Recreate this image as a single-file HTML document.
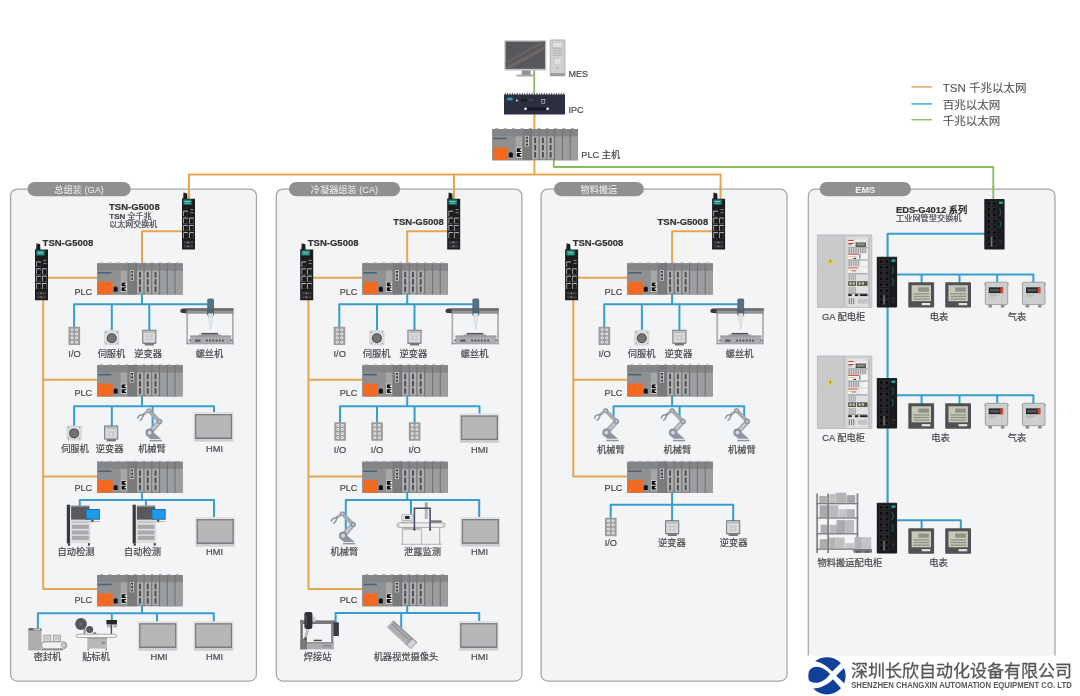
<!DOCTYPE html>
<html lang="zh-CN">
<head>
<meta charset="utf-8">
<title>TSN 网络拓扑</title>
<style>
html,body{margin:0;padding:0;background:#fff;}
body{width:1080px;height:696px;overflow:hidden;}
svg{display:block;filter:blur(0.45px);}
svg text{font-family:"Liberation Sans","Noto Sans CJK SC",sans-serif;}
</style>
</head>
<body>
<svg width="1080" height="696" viewBox="0 0 1080 696">
<rect width="1080" height="696" fill="#ffffff"/>
<defs>
<g id="plc">
<rect x="0" y="0" width="85.7" height="31.3" fill="#8b8c8e" />
<rect x="0" y="0" width="85.7" height="7.2" fill="#848587" />
<rect x="3.0" y="-0.9" width="3.2" height="1.0" fill="#a9aaac" />
<rect x="11.4" y="-0.9" width="3.2" height="1.0" fill="#a9aaac" />
<rect x="19.8" y="-0.9" width="3.2" height="1.0" fill="#a9aaac" />
<rect x="28.200000000000003" y="-0.9" width="3.2" height="1.0" fill="#a9aaac" />
<rect x="36.6" y="-0.9" width="3.2" height="1.0" fill="#a9aaac" />
<rect x="45.0" y="-0.9" width="3.2" height="1.0" fill="#a9aaac" />
<rect x="53.400000000000006" y="-0.9" width="3.2" height="1.0" fill="#a9aaac" />
<rect x="61.800000000000004" y="-0.9" width="3.2" height="1.0" fill="#a9aaac" />
<rect x="70.2" y="-0.9" width="3.2" height="1.0" fill="#a9aaac" />
<rect x="78.60000000000001" y="-0.9" width="3.2" height="1.0" fill="#a9aaac" />
<rect x="0" y="7.2" width="30.7" height="24.1" fill="#8f9092" />
<rect x="0.9" y="8.7" width="13.6" height="1.6" fill="#4a6578" />
<rect x="0.9" y="18.4" width="14.8" height="12.6" fill="#f26a21" />
<rect x="23.6" y="7.4" width="6.2" height="11.2" fill="#a6a7a9" />
<rect x="16.6" y="23.9" width="4.0" height="4.4" fill="#101012" />
<rect x="17.6" y="23.3" width="2.0" height="0.8" fill="#101012" />
<rect x="23.8" y="18.6" width="5.9" height="10.0" fill="#ececec" />
<rect x="24.5" y="19.2" width="4.6" height="3.9" fill="#101012" />
<rect x="24.5" y="24.0" width="4.6" height="3.9" fill="#101012" />
<rect x="27.6" y="20.2" width="2.1" height="1.6" fill="#ececec" />
<rect x="27.6" y="25.0" width="2.1" height="1.6" fill="#ececec" />
<rect x="30.7" y="0" width="8.3" height="31.3" fill="#7a7b7d" />
<rect x="32.7" y="6.9" width="3.9" height="10.4" fill="#d9d9da" />
<rect x="33.5" y="7.7" width="2.3" height="8.8" fill="#2e2f31" />
<rect x="33.9" y="9.2" width="1.5" height="2.2" fill="#bdbdbd" />
<rect x="33.9" y="12.8" width="1.5" height="2.2" fill="#bdbdbd" />
<rect x="38.9" y="0" width="0.8" height="31.3" fill="#6f7072" />
<rect x="39.9" y="7.4" width="6.2" height="22.4" fill="#aeafb1" />
<rect x="42.0" y="8.6" width="1.9" height="5.6" fill="#4b4c4e" />
<rect x="42.0" y="15.8" width="1.9" height="5.6" fill="#4b4c4e" />
<rect x="42.0" y="23.0" width="1.9" height="5.6" fill="#4b4c4e" />
<rect x="46.65" y="0" width="0.8" height="31.3" fill="#6f7072" />
<rect x="47.65" y="7.4" width="6.2" height="22.4" fill="#aeafb1" />
<rect x="49.75" y="8.6" width="1.9" height="5.6" fill="#4b4c4e" />
<rect x="49.75" y="15.8" width="1.9" height="5.6" fill="#4b4c4e" />
<rect x="49.75" y="23.0" width="1.9" height="5.6" fill="#4b4c4e" />
<rect x="54.4" y="0" width="0.8" height="31.3" fill="#6f7072" />
<rect x="55.4" y="7.4" width="6.2" height="22.4" fill="#aeafb1" />
<rect x="57.5" y="8.6" width="1.9" height="5.6" fill="#4b4c4e" />
<rect x="57.5" y="15.8" width="1.9" height="5.6" fill="#4b4c4e" />
<rect x="57.5" y="23.0" width="1.9" height="5.6" fill="#4b4c4e" />
<rect x="62.0" y="0" width="0.9" height="31.3" fill="#6f7072" />
<rect x="63.1" y="7.4" width="6.6" height="23.9" fill="#9c9d9f" />
<rect x="69.8" y="0" width="0.9" height="31.3" fill="#6f7072" />
<rect x="70.9" y="7.4" width="6.6" height="23.9" fill="#9c9d9f" />
<rect x="77.6" y="0" width="0.9" height="31.3" fill="#6f7072" />
<rect x="78.7" y="7.4" width="6.6" height="23.9" fill="#9c9d9f" />
</g>
<g id="tsn">
<path d="M0,6 L0,57 L13,57 L13,6.2 L5.4,6.2 L5.1,0.9 L1.5,0 L1.2,6 Z" fill="#1b1c1e"/>
<circle cx="2.2" cy="1.6" r="0.7" fill="#8e2f2a"/>
<rect x="1.3" y="7.0" width="8.4" height="5.2" fill="#1c857d" />
<rect x="2.6" y="8.6" width="5.5" height="0.9" fill="#7fd0c8" />
<rect x="2.6" y="10.2" width="5.5" height="0.9" fill="#58b7ae" />
<rect x="1.3" y="18.2" width="4.6" height="5.4" fill="#c9cacc" />
<rect x="2.0" y="19.1" width="3.9" height="4.5" fill="#1b1c1e" />
<rect x="8.3" y="16.5" width="3.2" height="1.2" fill="#77787a" />
<rect x="8.3" y="19.6" width="3.2" height="1.2" fill="#77787a" />
<rect x="1.3" y="25.1" width="4.6" height="5.9" fill="#c9cacc" />
<rect x="2.0" y="26.0" width="3.9" height="5.0" fill="#1b1c1e" />
<rect x="7.1" y="25.1" width="4.6" height="5.9" fill="#c9cacc" />
<rect x="7.8" y="26.0" width="3.9" height="5.0" fill="#1b1c1e" />
<rect x="1.3" y="32.4" width="4.6" height="5.9" fill="#c9cacc" />
<rect x="2.0" y="33.3" width="3.9" height="5.0" fill="#1b1c1e" />
<rect x="7.1" y="32.4" width="4.6" height="5.9" fill="#c9cacc" />
<rect x="7.8" y="33.3" width="3.9" height="5.0" fill="#1b1c1e" />
<rect x="1.3" y="39.7" width="4.6" height="5.9" fill="#c9cacc" />
<rect x="2.0" y="40.6" width="3.9" height="5.0" fill="#1b1c1e" />
<rect x="7.1" y="39.7" width="4.6" height="5.9" fill="#c9cacc" />
<rect x="7.8" y="40.6" width="3.9" height="5.0" fill="#1b1c1e" />
<rect x="1.6" y="48.4" width="9.8" height="3.0" fill="#3a3b3d" />
<rect x="1.6" y="52.3" width="9.8" height="3.0" fill="#3a3b3d" />
<rect x="5.6" y="49.4" width="1.0" height="1.0" fill="#d0d0d0" />
<rect x="5.6" y="53.3" width="1.0" height="1.0" fill="#d0d0d0" />
</g>
<g id="eds">
<rect x="0" y="0" width="20.3" height="50.6" fill="#1a1b1d" rx="0.8"/>
<rect x="0.6" y="0.6" width="19.1" height="0.6" fill="#2e2f32" />
<rect x="2.0" y="2.3" width="4.7" height="4.6" fill="#2d2e31" rx="0.6"/>
<circle cx="4.35" cy="4.60" r="1.5" fill="#0b0b0c"/>
<rect x="7.9" y="2.3" width="4.7" height="4.6" fill="#2d2e31" rx="0.6"/>
<circle cx="10.25" cy="4.60" r="1.5" fill="#0b0b0c"/>
<rect x="2.0" y="8.1" width="4.7" height="4.6" fill="#2d2e31" rx="0.6"/>
<circle cx="4.35" cy="10.40" r="1.5" fill="#0b0b0c"/>
<rect x="7.9" y="8.1" width="4.7" height="4.6" fill="#2d2e31" rx="0.6"/>
<circle cx="10.25" cy="10.40" r="1.5" fill="#0b0b0c"/>
<rect x="2.0" y="13.9" width="4.7" height="4.6" fill="#2d2e31" rx="0.6"/>
<circle cx="4.35" cy="16.20" r="1.5" fill="#0b0b0c"/>
<rect x="7.9" y="13.9" width="4.7" height="4.6" fill="#2d2e31" rx="0.6"/>
<circle cx="10.25" cy="16.20" r="1.5" fill="#0b0b0c"/>
<rect x="2.0" y="19.7" width="4.7" height="4.6" fill="#2d2e31" rx="0.6"/>
<circle cx="4.35" cy="22.00" r="1.5" fill="#0b0b0c"/>
<rect x="7.9" y="19.7" width="4.7" height="4.6" fill="#2d2e31" rx="0.6"/>
<circle cx="10.25" cy="22.00" r="1.5" fill="#0b0b0c"/>
<rect x="2.0" y="25.5" width="4.7" height="4.6" fill="#2d2e31" rx="0.6"/>
<circle cx="4.35" cy="27.80" r="1.5" fill="#0b0b0c"/>
<rect x="7.9" y="25.5" width="4.7" height="4.6" fill="#2d2e31" rx="0.6"/>
<circle cx="10.25" cy="27.80" r="1.5" fill="#0b0b0c"/>
<rect x="2.0" y="31.3" width="4.7" height="4.6" fill="#2d2e31" rx="0.6"/>
<circle cx="4.35" cy="33.60" r="1.5" fill="#0b0b0c"/>
<rect x="7.9" y="31.3" width="4.7" height="4.6" fill="#2d2e31" rx="0.6"/>
<circle cx="10.25" cy="33.60" r="1.5" fill="#0b0b0c"/>
<rect x="2.0" y="37.1" width="4.7" height="4.6" fill="#2d2e31" rx="0.6"/>
<circle cx="4.35" cy="39.40" r="1.5" fill="#0b0b0c"/>
<rect x="7.9" y="37.1" width="4.7" height="4.6" fill="#2d2e31" rx="0.6"/>
<circle cx="10.25" cy="39.40" r="1.5" fill="#0b0b0c"/>
<rect x="2.0" y="42.9" width="4.7" height="4.6" fill="#2d2e31" rx="0.6"/>
<circle cx="4.35" cy="45.20" r="1.5" fill="#0b0b0c"/>
<rect x="7.9" y="42.9" width="4.7" height="4.6" fill="#2d2e31" rx="0.6"/>
<circle cx="10.25" cy="45.20" r="1.5" fill="#0b0b0c"/>
<rect x="6.9" y="1.6" width="0.6" height="36" fill="#3a3b3e" />
<rect x="6.6" y="38.2" width="1.4" height="9.6" fill="#77787a" />
<rect x="14.6" y="2.6" width="4.0" height="2.4" fill="#23a79b" />
<path d="M15.4,9.6 Q17.8,13.4 15.4,17.2 M15.4,21.4 Q17.8,25.2 15.4,29" stroke="#2a7f86" stroke-width="0.7" fill="none"/>
<rect x="15.0" y="40.6" width="2.8" height="2.8" fill="#2d2e31" />
<rect x="15.0" y="45.0" width="2.8" height="1.2" fill="#2d2e31" />
</g>
<g id="io">
<rect x="0" y="0" width="11.6" height="18.4" fill="#9b9c9e" rx="0.6"/>
<rect x="2.0" y="1.7" width="3.0" height="2.7" fill="#e6e6e7" rx="1.0"/>
<circle cx="3.50" cy="3.05" r="0.7" fill="#b5b6b8"/>
<rect x="6.6" y="1.7" width="3.0" height="2.7" fill="#e6e6e7" rx="1.0"/>
<circle cx="8.10" cy="3.05" r="0.7" fill="#b5b6b8"/>
<rect x="2.0" y="5.8" width="3.0" height="2.7" fill="#e6e6e7" rx="1.0"/>
<circle cx="3.50" cy="7.15" r="0.7" fill="#b5b6b8"/>
<rect x="6.6" y="5.8" width="3.0" height="2.7" fill="#e6e6e7" rx="1.0"/>
<circle cx="8.10" cy="7.15" r="0.7" fill="#b5b6b8"/>
<rect x="2.0" y="9.9" width="3.0" height="2.7" fill="#e6e6e7" rx="1.0"/>
<circle cx="3.50" cy="11.25" r="0.7" fill="#b5b6b8"/>
<rect x="6.6" y="9.9" width="3.0" height="2.7" fill="#e6e6e7" rx="1.0"/>
<circle cx="8.10" cy="11.25" r="0.7" fill="#b5b6b8"/>
<rect x="2.0" y="14.0" width="3.0" height="2.7" fill="#e6e6e7" rx="1.0"/>
<circle cx="3.50" cy="15.35" r="0.7" fill="#b5b6b8"/>
<rect x="6.6" y="14.0" width="3.0" height="2.7" fill="#e6e6e7" rx="1.0"/>
<circle cx="8.10" cy="15.35" r="0.7" fill="#b5b6b8"/>
</g>
<g id="servo">
<rect x="0.5" y="0.6" width="14.6" height="14.4" fill="#dcdddf" rx="1.2" stroke="#c9cacc" stroke-width="0.5"/>
<circle cx="7.8" cy="8.2" r="5.0" fill="#4f5052"/>
<circle cx="7.8" cy="8.2" r="3.9" fill="#737476"/>
<circle cx="2.3" cy="2.4" r="0.8" fill="#a4a5a7"/>
<circle cx="13.3" cy="2.4" r="0.8" fill="#a4a5a7"/>
<circle cx="2.3" cy="13.2" r="0.8" fill="#a4a5a7"/>
<circle cx="13.3" cy="13.2" r="0.8" fill="#a4a5a7"/>
</g>
<g id="inv">
<rect x="2.4" y="13.6" width="9.2" height="2.2" fill="#77787a" />
<rect x="0" y="0" width="14" height="14.0" fill="#66676a" rx="0.5"/>
<rect x="0.9" y="1.0" width="12.2" height="12.0" fill="#d9dadc" />
<rect x="0.9" y="1.0" width="12.2" height="2.2" fill="#b9babc" />
<path d="M0.9,6.2 H13.1 M0.9,9.8 H13.1 M4.6,3.2 V13 M9.4,3.2 V13" stroke="#c4c5c7" stroke-width="0.5" fill="none"/>
<circle cx="7" cy="8.1" r="2.4" fill="#c3c4c6"/>
<circle cx="7" cy="8.1" r="1.0" fill="#f2f2f3"/>
</g>
<g id="hmi">
<rect x="-1.0" y="-0.2" width="40.3" height="29.7" fill="#e0e1e3" rx="0.8"/>
<rect x="0.6" y="1.8" width="37.2" height="24.9" fill="#7a7b7d" />
<rect x="1.9" y="3.1" width="34.6" height="22.0" fill="#b5b6b8" />
<rect x="0.2" y="26.7" width="38.0" height="2.4" fill="#cdced0" />
</g>
<g id="robot">
<path d="M12.6,31.6 L24.8,31.6 L24.8,33.1 L12.6,33.1 Z" fill="#8f959f"/>
<path d="M8.8,26.6 L12.6,20.6 L24.2,30.6 L13.6,30.6 Z" fill="#8f959f"/>
<path d="M12.6,24.4 L22.6,13.2" stroke="#a5aab3" stroke-width="5.2" stroke-linecap="round"/>
<path d="M13.6,23.2 L21.8,14.0" stroke="#d6dadf" stroke-width="1.3" stroke-linecap="round"/>
<path d="M22.6,13.2 L11.8,2.2" stroke="#a5aab3" stroke-width="4.0" stroke-linecap="round"/>
<path d="M11.8,2.2 L6.6,6.2" stroke="#a5aab3" stroke-width="2.8" stroke-linecap="round"/>
<path d="M6.8,6.0 L2.0,7.4 M6.8,6.0 L5.0,10.4 M2.0,7.4 L0.8,9.8 M5.0,10.4 L3.2,12.0" stroke="#8f959f" stroke-width="1.5" stroke-linecap="round" fill="none"/>
<circle cx="12.6" cy="24.4" r="4.1" fill="#8f959f"/>
<circle cx="12.6" cy="24.4" r="1.9" fill="#d6dadf"/>
<circle cx="22.6" cy="13.2" r="2.6" fill="#8f959f"/>
<circle cx="22.6" cy="13.2" r="1.1" fill="#d6dadf"/>
<ellipse cx="11.8" cy="2.2" rx="2.6" ry="2.1" fill="#8f959f"/>
<ellipse cx="11.8" cy="2.4" rx="1.2" ry="0.9" fill="#d6dadf"/>
</g>
<g id="screw">
<rect x="6.3" y="15" width="1.7" height="31.3" fill="#acadaf" />
<rect x="52.0" y="15" width="1.7" height="31.3" fill="#acadaf" />
<rect x="6.3" y="44.4" width="47.4" height="1.9" fill="#a2a3a5" />
<rect x="6.3" y="10.1" width="47.4" height="3.0" fill="#6f7072" />
<rect x="6.3" y="13.1" width="47.4" height="2.6" fill="#909193" />
<path d="M0.3,12.9 Q0.3,10.9 3.2,10.6 L6.6,10.4 L6.6,15.2 L3.2,15.1 Q0.3,14.9 0.3,12.9 Z" fill="#3a3b3d"/>
<rect x="27.2" y="0.4" width="6.8" height="17.8" fill="#587080" rx="1.6"/>
<rect x="27.2" y="10.1" width="6.8" height="5.6" fill="#4f6676" />
<rect x="28.2" y="15.4" width="4.8" height="2.6" fill="#dfe3e6" />
<path d="M28.4,18.2 L32.8,18.2 L32.2,24 L31.6,24 L31.2,31 L30.0,31 L29.6,24 L29.0,24 Z" fill="#e6e8ea" stroke="#c2c7cb" stroke-width="0.4"/>
<rect x="21.4" y="34.9" width="16.6" height="1.8" fill="#55565a" />
<rect x="18.4" y="36.6" width="22.6" height="1.4" fill="#8e8f91" />
<rect x="10.2" y="37.6" width="41.0" height="7.6" fill="#abacae" />
<rect x="10.2" y="37.6" width="41.0" height="1.2" fill="#97989a" />
<rect x="15.0" y="41.4" width="5.4" height="2.4" fill="#5f6062" />
<rect x="8.6" y="41.6" width="2.6" height="1.6" fill="#77787a" />
<rect x="50.2" y="41.6" width="2.6" height="1.6" fill="#77787a" />
<rect x="26.0" y="41.6" width="1.9" height="1.9" fill="#55565a" />
<rect x="29.2" y="41.6" width="1.9" height="1.9" fill="#55565a" />
<rect x="32.4" y="41.6" width="1.9" height="1.9" fill="#55565a" />
<rect x="35.6" y="41.6" width="1.9" height="1.9" fill="#55565a" />
<rect x="38.8" y="41.6" width="1.9" height="1.9" fill="#55565a" />
<rect x="42.0" y="41.6" width="1.9" height="1.9" fill="#55565a" />
</g>
<g id="tester">
<rect x="0.1" y="0.7" width="3.3" height="38.8" fill="#38393b" />
<rect x="3.4" y="1.4" width="1.0" height="37.8" fill="#e4e4e6" />
<rect x="4.4" y="1.4" width="18.4" height="1.6" fill="#98999b" />
<rect x="4.4" y="2.8" width="18.4" height="13.0" fill="#58595c" />
<rect x="4.1" y="15.8" width="19.7" height="23.4" fill="#dcdddf" />
<rect x="5.3" y="17.2" width="16.7" height="1.8" fill="#c2c3c5" />
<rect x="5.3" y="20.8" width="16.7" height="4.0" fill="#a8a9ab" />
<rect x="5.3" y="26.5" width="16.7" height="4.0" fill="#a8a9ab" />
<rect x="5.3" y="31.9" width="16.7" height="4.0" fill="#a8a9ab" />
<rect x="18.8" y="5.0" width="14.4" height="10.8" fill="#1a70b0" rx="0.5"/>
<rect x="19.9" y="6.0" width="12.2" height="8.6" fill="#1e9ce9" />
<rect x="24.6" y="15.8" width="2.2" height="2.4" fill="#3f4042" />
<rect x="22.8" y="17.0" width="10.2" height="0.7" fill="#98999b" />
<rect x="1.2" y="39.5" width="2.2" height="2.1" fill="#38393b" />
<rect x="21.2" y="39.2" width="2.0" height="2.4" fill="#38393b" />
</g>
<g id="sealer">
<rect x="0.2" y="1.6" width="13.4" height="21.0" fill="#acadaf" />
<rect x="0.2" y="0.3" width="13.4" height="2.6" fill="#8c8d8f" />
<rect x="1.4" y="0.5" width="3.6" height="1.5" fill="#55565a" />
<rect x="6.2" y="0.9" width="2.4" height="1.2" fill="#d8d9da" />
<rect x="9.6" y="0.9" width="2.4" height="1.2" fill="#d8d9da" />
<rect x="15.9" y="7.3" width="7.0" height="6.6" fill="#dcdcde" stroke="#8c8d8f" stroke-width="0.7"/>
<rect x="25.6" y="7.3" width="7.0" height="6.6" fill="#dcdcde" stroke="#8c8d8f" stroke-width="0.7"/>
<rect x="17.2" y="8.6" width="4.4" height="3.6" fill="#c9c4c8" />
<rect x="26.9" y="8.6" width="4.4" height="3.6" fill="#c9c4c8" />
<rect x="13.4" y="14.0" width="25.4" height="7.0" fill="#f2f2f3" rx="3.5" stroke="#8e8f91" stroke-width="0.9"/>
<circle cx="35.6" cy="17.5" r="2.3" fill="#d3d4d6" stroke="#8e8f91" stroke-width="0.8"/>
<rect x="13.6" y="21.0" width="21" height="1.6" fill="#8c8d8f" />
</g>
<g id="labeler">
<rect x="8.3" y="10.6" width="1.9" height="5.8" fill="#8c8d8f" />
<circle cx="5.6" cy="6.0" r="5.9" fill="#55565a"/>
<circle cx="5.6" cy="6.0" r="1.4" fill="#6e6f73"/>
<circle cx="14.3" cy="11.6" r="3.5" fill="#55565a"/>
<circle cx="14.3" cy="11.6" r="0.9" fill="#6e6f73"/>
<rect x="17.6" y="14.4" width="3.2" height="1.6" fill="#77787a" />
<rect x="31.0" y="1.9" width="10.6" height="4.6" fill="#242527" rx="0.5"/>
<rect x="31.8" y="6.5" width="1.2" height="3.0" fill="#8c8d8f" />
<rect x="34.0" y="6.5" width="1.2" height="3.0" fill="#8c8d8f" />
<rect x="38.0" y="6.5" width="1.2" height="3.0" fill="#8c8d8f" />
<rect x="40.0" y="6.5" width="1.2" height="3.0" fill="#8c8d8f" />
<rect x="35.3" y="6.5" width="1.4" height="9.6" fill="#4b4c4f" />
<rect x="0.9" y="16.2" width="40.3" height="3.3" fill="#f4f4f5" rx="1.6" stroke="#97989a" stroke-width="0.8"/>
<rect x="12.0" y="19.9" width="19.5" height="10.7" fill="#b7b8ba" />
<rect x="12.0" y="19.9" width="19.5" height="1.1" fill="#9c9d9f" />
<rect x="26.4" y="23.6" width="3.0" height="2.4" fill="#8c8d8f" />
<rect x="12.0" y="30.6" width="1.5" height="1.9" fill="#8c8d8f" />
<rect x="30.0" y="30.6" width="1.5" height="1.9" fill="#8c8d8f" />
</g>
<g id="leak">
<rect x="28.3" y="0" width="2.9" height="16.4" fill="#a3a4a6" />
<rect x="29.0" y="0.8" width="1.5" height="4.0" fill="#8fae86" />
<rect x="29.2" y="5.6" width="1.1" height="10" fill="#c9cacc" />
<rect x="5.4" y="25.0" width="1.4" height="17.0" fill="#b7b8ba" />
<rect x="24.4" y="25.0" width="1.2" height="17.0" fill="#b7b8ba" />
<rect x="42.4" y="25.0" width="1.4" height="17.0" fill="#b7b8ba" />
<rect x="4.4" y="41.2" width="40.6" height="1.1" fill="#a9aaac" />
<rect x="6.8" y="27.4" width="17.6" height="13.8" fill="#f0f0f1" />
<rect x="25.6" y="27.4" width="16.8" height="13.8" fill="#f0f0f1" />
<rect x="6.8" y="24.6" width="17.2" height="2.8" fill="#b5b6b8" />
<rect x="5.4" y="11.8" width="11.1" height="8.6" fill="#dedfe1" stroke="#a9aaac" stroke-width="0.6"/>
<rect x="8.6" y="13.6" width="4.4" height="2.9" fill="#1f2022" />
<rect x="6.4" y="17.6" width="8.6" height="1.0" fill="#b5b6b8" />
<rect x="34.5" y="17.9" width="10.7" height="2.6" fill="#77787a" />
<rect x="0.4" y="20.5" width="48.3" height="4.5" fill="#f0f0f1" rx="2.2" stroke="#9a9b9d" stroke-width="0.8"/>
<circle cx="2.6" cy="22.8" r="0.7" fill="#9a9b9d"/>
<circle cx="46.4" cy="22.8" r="0.7" fill="#9a9b9d"/>
<path d="M17.9,27.2 L17.9,5.8 L33.6,5.8 L33.6,27.2" fill="none" stroke="#4f4d68" stroke-width="1.6"/>
<circle cx="17.9" cy="27.4" r="1.0" fill="#2c2d30"/>
<circle cx="33.6" cy="27.4" r="1.0" fill="#2c2d30"/>
</g>
<g id="weld">
<rect x="0" y="8.1" width="2.4" height="29.5" fill="#6b6c6e" />
<rect x="30.6" y="12.3" width="2.5" height="25.3" fill="#8c8d8f" />
<rect x="0" y="8.7" width="34.9" height="3.6" fill="#77787a" />
<rect x="12" y="5.0" width="3.0" height="5.2" fill="#c9cacc" />
<rect x="4.0" y="0.3" width="8.0" height="16.9" fill="#2f3033" rx="2.2"/>
<rect x="5.4" y="4" width="1.2" height="9" fill="#55565a" />
<path d="M8.4,17.2 L5.2,27.6 M6.6,17.2 L4.2,27.6" stroke="#77787a" stroke-width="0.7"/>
<rect x="32.9" y="10.5" width="5.6" height="13.9" fill="#3b3c3f" rx="0.8"/>
<rect x="2.4" y="30.4" width="30.7" height="7.2" fill="#acadaf" />
<rect x="2.4" y="30.4" width="30.7" height="1.4" fill="#8c8d8f" />
<rect x="0" y="26.8" width="6.6" height="10.8" fill="#77787a" />
<rect x="4.2" y="25.6" width="1.8" height="2.6" fill="#4b4c4f" />
<rect x="13.2" y="28.0" width="8.4" height="1.5" fill="#4b4c4f" />
<rect x="22.3" y="33.4" width="8.4" height="0.8" fill="#77787a" />
<rect x="22.3" y="34.9" width="8.4" height="0.8" fill="#8c8d8f" />
</g>
<g id="camera">
<g transform="translate(15.2,10.4) rotate(42.6)">
<rect x="-16.4" y="-4.8" width="32.8" height="9.6" fill="#b4b5b7" rx="1.4"/>
<rect x="-16.4" y="-4.8" width="32.8" height="2.0" fill="#9a9b9d" rx="1.0"/>
<rect x="-15" y="-1.6" width="24" height="1.3" fill="#8c8d8f" />
<rect x="-15" y="1.2" width="24" height="1.0" fill="#9fa0a2" />
<rect x="10.4" y="-3.8" width="4.8" height="7.6" fill="#d3d4d6" rx="0.8"/>
<rect x="9.2" y="-4.8" width="1.0" height="9.6" fill="#8c8d8f" />
</g>
</g>
<g id="cabinet">
<rect x="0" y="0" width="26.8" height="72.4" fill="#c6c7c9" stroke="#b3b4b6" stroke-width="0.7"/>
<rect x="1.2" y="1.2" width="24.4" height="70" fill="#c9cacc" />
<path d="M13,23 L9.8,28.6 L16.2,28.6 Z" fill="#efc21c"/>
<rect x="12.6" y="25" width="0.8" height="2" fill="#7a6a1a" />
<rect x="4.2" y="31.6" width="1.0" height="2.4" fill="#e0c04a" />
<rect x="27.4" y="0" width="27.2" height="72.4" fill="#d0d1d3" stroke="#b3b4b6" stroke-width="0.7"/>
<rect x="30.2" y="2.6" width="20.8" height="69" fill="#dfe0e1" />
<rect x="51.0" y="2.6" width="1.4" height="69" fill="#b9babc" />
<rect x="30.9" y="5.0" width="5.4" height="1.2" fill="#c8402f" />
<rect x="30.9" y="6.2" width="5.4" height="1.4" fill="#fafafa" />
<rect x="30.9" y="8.0" width="5.4" height="1.1" fill="#c8402f" />
<rect x="30.9" y="9.1" width="5.4" height="1.6" fill="#fafafa" />
<rect x="30.9" y="9.7" width="4.0" height="0.6" fill="#3b3c3e" />
<rect x="38.4" y="7.6" width="10.2" height="4.4" fill="#4a4b40" />
<rect x="39.4" y="8.4" width="8.2" height="2.4" fill="#8c8e7c" />
<rect x="38.4" y="5.4" width="10.2" height="1.4" fill="#f2f2f2" />
<rect x="30.9" y="12.6" width="19.4" height="0.7" fill="#77787a" />
<rect x="31.2" y="13.6" width="1.2" height="4.8" fill="#8f9092" />
<rect x="33.5" y="13.6" width="1.2" height="4.8" fill="#8f9092" />
<rect x="35.8" y="13.6" width="1.2" height="4.8" fill="#8f9092" />
<rect x="38.1" y="13.6" width="1.2" height="4.8" fill="#8f9092" />
<rect x="40.4" y="13.6" width="1.2" height="4.8" fill="#8f9092" />
<rect x="42.7" y="13.6" width="1.2" height="4.8" fill="#8f9092" />
<rect x="45.0" y="13.6" width="1.2" height="4.8" fill="#8f9092" />
<rect x="47.3" y="13.6" width="1.2" height="4.8" fill="#8f9092" />
<rect x="30.9" y="18.8" width="10.6" height="1.1" fill="#c8402f" />
<rect x="30.9" y="19.9" width="10.6" height="3.6" fill="#fafafa" />
<rect x="36.2" y="22.9" width="2.6" height="1.0" fill="#222325" />
<rect x="43.6" y="18.8" width="6.4" height="5.2" fill="#f4f4f4" />
<rect x="41.8" y="19.4" width="1.2" height="4.2" fill="#6b7f94" />
<rect x="30.9" y="21.2" width="9" height="0.5" fill="#d98a2b" />
<rect x="30.9" y="24.8" width="19.4" height="0.7" fill="#77787a" />
<rect x="31.2" y="25.8" width="1.2" height="5.6" fill="#97989a" />
<rect x="33.5" y="25.8" width="1.2" height="5.6" fill="#97989a" />
<rect x="35.8" y="25.8" width="1.2" height="5.6" fill="#97989a" />
<rect x="38.1" y="25.8" width="1.2" height="5.6" fill="#97989a" />
<rect x="40.4" y="25.8" width="1.2" height="5.6" fill="#97989a" />
<rect x="43.2" y="25.8" width="6.8" height="5.6" fill="#f1f1f1" />
<rect x="30.9" y="32.6" width="9.6" height="1.1" fill="#c8402f" />
<rect x="30.9" y="33.7" width="9.6" height="3.8" fill="#fafafa" />
<rect x="34.0" y="35.6" width="5.0" height="0.8" fill="#55565a" />
<rect x="42.4" y="32.8" width="7.6" height="5.0" fill="#f4f4f4" />
<rect x="30.9" y="34.9" width="8.4" height="0.5" fill="#d98a2b" />
<rect x="30.9" y="38.6" width="19.4" height="0.7" fill="#77787a" />
<rect x="31.4" y="39.6" width="0.9" height="6.0" fill="#8f9092" />
<rect x="33.4" y="39.6" width="0.9" height="6.0" fill="#8f9092" />
<rect x="35.4" y="39.6" width="0.9" height="6.0" fill="#8f9092" />
<rect x="37.4" y="39.6" width="0.9" height="6.0" fill="#8f9092" />
<rect x="30.9" y="46.3" width="19.4" height="4.7" fill="#55574b" />
<rect x="32.2" y="47.4" width="2.0" height="2.4" fill="#c9ccb6" />
<rect x="35.4" y="47.4" width="2.0" height="2.4" fill="#c9ccb6" />
<rect x="41.4" y="47.4" width="2.0" height="2.4" fill="#c9ccb6" />
<rect x="44.6" y="47.4" width="2.0" height="2.4" fill="#c9ccb6" />
<rect x="38.8" y="46.3" width="1.0" height="4.7" fill="#dfe0e1" />
<rect x="31.4" y="52.0" width="0.9" height="6.2" fill="#8f9092" />
<rect x="33.4" y="52.0" width="0.9" height="6.2" fill="#8f9092" />
<rect x="35.4" y="52.0" width="0.9" height="6.2" fill="#8f9092" />
<rect x="37.4" y="52.0" width="0.9" height="6.2" fill="#8f9092" />
<rect x="30.9" y="59.2" width="3.6" height="2.0" fill="#222325" />
<rect x="37.6" y="59.2" width="3.4" height="2.0" fill="#222325" />
<rect x="42.6" y="59.2" width="7.6" height="2.0" fill="#222325" />
<rect x="30.9" y="58.2" width="19.4" height="0.6" fill="#77787a" />
<rect x="31.4" y="63.2" width="1.2" height="6.0" fill="#838486" />
<rect x="33.6" y="63.2" width="1.2" height="6.0" fill="#838486" />
<rect x="35.8" y="63.2" width="1.2" height="6.0" fill="#838486" />
<rect x="40.6" y="63.6" width="9.6" height="5.2" fill="#c4c5c7" />
</g>
<g id="shelf">
<rect x="3.2" y="3.4" width="7.6" height="7.0" fill="#aeafb1" />
<rect x="13.4" y="1.6" width="6.0" height="8.8" fill="#bdbec0" />
<rect x="19.6" y="0.2" width="10.6" height="10.2" fill="#b3b4b6" />
<rect x="30.6" y="2.6" width="8.6" height="7.8" fill="#a6a7a9" />
<rect x="3.6" y="12.8" width="9.0" height="12.0" fill="#a9aaac" />
<rect x="13.0" y="12.8" width="9.4" height="12.0" fill="#b9babc" />
<rect x="22.6" y="16.6" width="7.6" height="8.2" fill="#c4c5c7" />
<rect x="30.4" y="16.6" width="8.4" height="8.2" fill="#b3b4b6" />
<rect x="4.6" y="32.2" width="8.0" height="8.4" fill="#adaeb0" />
<rect x="13.4" y="32.2" width="9.8" height="8.4" fill="#b9babc" />
<rect x="20.6" y="27.6" width="8.4" height="13.0" fill="#a9aaac" />
<rect x="29.2" y="27.6" width="8.8" height="13.0" fill="#bbbcbe" />
<rect x="3.6" y="46.6" width="9.0" height="9.3" fill="#acadaf" />
<rect x="13.2" y="45.0" width="6.4" height="10.9" fill="#b3b4b6" />
<rect x="19.8" y="45.0" width="8.8" height="10.9" fill="#bebfc1" />
<rect x="29.2" y="50.6" width="8.6" height="5.3" fill="#c6c7c9" />
<rect x="0.3" y="10.4" width="42" height="1.4" fill="#7e7f81" />
<rect x="0.3" y="24.8" width="42" height="1.4" fill="#7e7f81" />
<rect x="0.3" y="40.6" width="42" height="1.4" fill="#7e7f81" />
<rect x="0.3" y="55.9" width="42" height="1.4" fill="#7e7f81" />
<rect x="0.3" y="1" width="1.7" height="59.5" fill="#7e7f81" />
<rect x="11.3" y="1" width="1.7" height="59.5" fill="#7e7f81" />
<rect x="40.6" y="1" width="1.7" height="59.5" fill="#7e7f81" />
<rect x="38.4" y="44.6" width="8.2" height="12" fill="#b3b4b6" />
<rect x="46.8" y="44.6" width="8.4" height="12" fill="#c3c4c6" />
<rect x="37.4" y="56.6" width="18.6" height="3.6" fill="#77787a" rx="0.8"/>
<rect x="40" y="58.2" width="4.6" height="2.0" fill="#5f6062" />
<rect x="48.6" y="58.2" width="4.6" height="2.0" fill="#5f6062" />
</g>
<g id="pmeter">
<rect x="0" y="0" width="25.8" height="25.4" fill="#505153" rx="0.8"/>
<rect x="3.3" y="3.0" width="19.4" height="16.0" fill="#c6c9b9" />
<rect x="10.0" y="5.2" width="10.6" height="4.2" fill="#8f9285" />
<rect x="5.2" y="11.0" width="15.8" height="1.3" fill="#8f9285" />
<rect x="5.2" y="13.6" width="15.8" height="1.3" fill="#8f9285" />
<rect x="5.2" y="16.2" width="15.8" height="1.3" fill="#8f9285" />
<rect x="13.4" y="20.8" width="8.6" height="2.2" fill="#e5e5e6" />
</g>
<g id="gmeter">
<rect x="-0.6" y="0.8" width="1.6" height="2.6" fill="#b1b2b4" />
<rect x="22.0" y="0.8" width="1.6" height="2.6" fill="#b1b2b4" />
<rect x="3.4" y="22.6" width="3.6" height="3.0" fill="#8c8d8f" />
<rect x="15.8" y="22.6" width="3.6" height="3.0" fill="#8c8d8f" />
<rect x="0.3" y="0.3" width="22.4" height="22.4" fill="#cdced0" rx="1.2" stroke="#8f9092" stroke-width="0.8"/>
<rect x="3.8" y="5.4" width="14.2" height="5.8" fill="#242527" />
<rect x="15.4" y="5.4" width="2.8" height="5.8" fill="#d8472e" />
<rect x="5.0" y="7.0" width="9.4" height="2.6" fill="#55565a" />
<rect x="4.2" y="12.8" width="7.6" height="0.8" fill="#a4a5a7" />
<rect x="4.2" y="14.6" width="5.4" height="0.8" fill="#b9babc" />
</g>
<g id="pc">
<rect x="0" y="0.6" width="42" height="30.2" fill="#c2c3c5" rx="0.8"/>
<rect x="1.3" y="1.9" width="39.4" height="27.2" fill="#57585b" />
<path d="M1.3,27 L40.7,6 L40.7,9.6 L6,29.1 L1.3,29.1 Z" fill="#6b6663"/>
<path d="M1.3,22 L36,1.9 L40.7,1.9 L40.7,3.2 L1.3,24.8 Z" fill="#64605f"/>
<rect x="17.4" y="30.8" width="9.0" height="4.4" fill="#8f9092" />
<rect x="12.0" y="35.0" width="18.4" height="1.7" fill="#a3a4a6" />
<rect x="45.9" y="0.2" width="14.8" height="36.0" fill="#d0d1d3" rx="0.6" stroke="#9b9c9e" stroke-width="0.7"/>
<rect x="48.4" y="2.6" width="9.8" height="4.8" fill="#e0e1e2" stroke="#b1b2b4" stroke-width="0.4"/>
<rect x="48.4" y="8.4" width="9.8" height="1.0" fill="#b1b2b4" />
<rect x="48.4" y="10.6" width="9.8" height="1.0" fill="#b1b2b4" />
<rect x="48.4" y="12.8" width="9.8" height="1.0" fill="#b1b2b4" />
<rect x="48.4" y="15.0" width="9.8" height="1.0" fill="#b1b2b4" />
<rect x="49.8" y="18.6" width="7.0" height="6.6" fill="#e0e1e2" stroke="#b1b2b4" stroke-width="0.4"/>
<circle cx="53.3" cy="28.4" r="1.1" fill="#b1b2b4"/>
<rect x="45.9" y="33.4" width="14.8" height="2.8" fill="#9b9c9e" />
</g>
<g id="ipc">
<rect x="0" y="2.4" width="61" height="19.8" fill="#2b2f40" rx="0.6"/>
<path d="M0.5,2.6 L1.20,0 L1.90,2.6 Z" fill="#2b2f40"/>
<path d="M2.94,2.6 L3.64,0 L4.34,2.6 Z" fill="#2b2f40"/>
<path d="M5.38,2.6 L6.08,0 L6.78,2.6 Z" fill="#2b2f40"/>
<path d="M7.82,2.6 L8.52,0 L9.22,2.6 Z" fill="#2b2f40"/>
<path d="M10.26,2.6 L10.96,0 L11.66,2.6 Z" fill="#2b2f40"/>
<path d="M12.7,2.6 L13.40,0 L14.10,2.6 Z" fill="#2b2f40"/>
<path d="M15.14,2.6 L15.84,0 L16.54,2.6 Z" fill="#2b2f40"/>
<path d="M17.58,2.6 L18.28,0 L18.98,2.6 Z" fill="#2b2f40"/>
<path d="M20.02,2.6 L20.72,0 L21.42,2.6 Z" fill="#2b2f40"/>
<path d="M22.46,2.6 L23.16,0 L23.86,2.6 Z" fill="#2b2f40"/>
<path d="M24.9,2.6 L25.60,0 L26.30,2.6 Z" fill="#2b2f40"/>
<path d="M27.34,2.6 L28.04,0 L28.74,2.6 Z" fill="#2b2f40"/>
<path d="M29.78,2.6 L30.48,0 L31.18,2.6 Z" fill="#2b2f40"/>
<path d="M32.22,2.6 L32.92,0 L33.62,2.6 Z" fill="#2b2f40"/>
<path d="M34.66,2.6 L35.36,0 L36.06,2.6 Z" fill="#2b2f40"/>
<path d="M37.1,2.6 L37.80,0 L38.50,2.6 Z" fill="#2b2f40"/>
<path d="M39.54,2.6 L40.24,0 L40.94,2.6 Z" fill="#2b2f40"/>
<path d="M41.98,2.6 L42.68,0 L43.38,2.6 Z" fill="#2b2f40"/>
<path d="M44.42,2.6 L45.12,0 L45.82,2.6 Z" fill="#2b2f40"/>
<path d="M46.86,2.6 L47.56,0 L48.26,2.6 Z" fill="#2b2f40"/>
<path d="M49.3,2.6 L50.00,0 L50.70,2.6 Z" fill="#2b2f40"/>
<path d="M51.74,2.6 L52.44,0 L53.14,2.6 Z" fill="#2b2f40"/>
<path d="M54.18,2.6 L54.88,0 L55.58,2.6 Z" fill="#2b2f40"/>
<path d="M56.62,2.6 L57.32,0 L58.02,2.6 Z" fill="#2b2f40"/>
<path d="M59.06,2.6 L59.76,0 L60.46,2.6 Z" fill="#2b2f40"/>
<rect x="3.4" y="5.4" width="5.2" height="2.8" fill="#2b9ab8" />
<circle cx="12.8" cy="8.3" r="0.9" fill="#e9e9ea"/>
<rect x="17" y="6.4" width="6.2" height="3.2" fill="#1b1d29" />
<rect x="24.4" y="6.8" width="4.6" height="2.4" fill="#3a3e52" />
<rect x="37.8" y="7.4" width="3.0" height="3.6" fill="none" stroke="#d9d9da" stroke-width="0.6"/>
<rect x="20.4" y="15.2" width="24.6" height="2.8" fill="#15161f" rx="1.4"/>
<circle cx="21.6" cy="16.6" r="1.4" fill="#ececed"/>
<circle cx="43.6" cy="16.6" r="1.4" fill="#ececed"/>
</g>
</defs>
<path d="M534.20,70.00 L534.20,93.50" stroke="#84bd5a" stroke-width="1.8" fill="none" stroke-linejoin="round" />
<path d="M553.80,159.00 L553.80,167.00 L993.30,167.00 L993.30,199.50" stroke="#84bd5a" stroke-width="1.8" fill="none" stroke-linejoin="round" />
<path d="M534.40,113.00 L534.40,174.50" stroke="#e6a650" stroke-width="2.0" fill="none" stroke-linejoin="round" />
<path d="M188.90,199.00 L188.90,174.50 L720.60,174.50 L720.60,199.00" stroke="#e6a650" stroke-width="2.0" fill="none" stroke-linejoin="round" />
<path d="M454.00,174.50 L454.00,199.00" stroke="#e6a650" stroke-width="2.0" fill="none" stroke-linejoin="round" />
<rect x="10.6" y="189" width="245.8" height="492.1" rx="6.6" fill="#f3f4f6" stroke="#a4a5a7" stroke-width="1.25"/>
<rect x="27.5" y="182" width="103.2" height="14.2" rx="7.1" fill="#8f9092"/>
<text x="79.10" y="192.50" font-size="9.2" text-anchor="middle" fill="#ebebec" stroke="#ebebec" stroke-width="0.05" >总组装 (GA)</text>
<rect x="276.3" y="189" width="245.6" height="492.1" rx="6.6" fill="#f3f4f6" stroke="#a4a5a7" stroke-width="1.25"/>
<rect x="288.9" y="182" width="111.2" height="14.2" rx="7.1" fill="#8f9092"/>
<text x="344.50" y="192.50" font-size="9.2" text-anchor="middle" fill="#ebebec" stroke="#ebebec" stroke-width="0.05" >冷凝器组装 (CA)</text>
<rect x="541.1" y="189" width="245.9" height="492.1" rx="6.6" fill="#f3f4f6" stroke="#a4a5a7" stroke-width="1.25"/>
<rect x="553.9" y="182" width="90" height="14.2" rx="7.1" fill="#8f9092"/>
<text x="598.90" y="192.50" font-size="9.2" text-anchor="middle" fill="#ebebec" stroke="#ebebec" stroke-width="0.05" >物料搬运</text>
<rect x="808.3" y="189.2" width="246.7" height="492" rx="6.6" fill="#f3f4f6" stroke="#a4a5a7" stroke-width="1.25"/>
<rect x="819.6" y="182" width="91.4" height="14.2" rx="7.1" fill="#8f9092"/>
<text x="865.30" y="192.50" font-size="9.2" text-anchor="middle" font-weight="bold" fill="#ebebec" stroke="#ebebec" stroke-width="0.05" >EMS</text>
<path d="M188.90,186.00 L188.90,199.00" stroke="#e6a650" stroke-width="2.0" fill="none" stroke-linejoin="round" />
<path d="M454.00,186.00 L454.00,199.00" stroke="#e6a650" stroke-width="2.0" fill="none" stroke-linejoin="round" />
<path d="M720.60,186.00 L720.60,199.00" stroke="#e6a650" stroke-width="2.0" fill="none" stroke-linejoin="round" />
<path d="M993.30,186.00 L993.30,199.50" stroke="#84bd5a" stroke-width="1.8" fill="none" stroke-linejoin="round" />
<path d="M142.00,396.00 L142.00,406.20" stroke="#379dcd" stroke-width="2.0" fill="none" stroke-linejoin="round" />
<path d="M74.10,426.00 L74.10,406.20 L214.00,406.20 L214.00,413.00" stroke="#379dcd" stroke-width="2.0" fill="none" stroke-linejoin="round" />
<path d="M111.80,406.20 L111.80,426.00" stroke="#379dcd" stroke-width="2.0" fill="none" stroke-linejoin="round" />
<path d="M152.60,406.20 L152.60,430.00" stroke="#379dcd" stroke-width="2.0" fill="none" stroke-linejoin="round" />
<path d="M142.00,492.50 L142.00,500.10" stroke="#379dcd" stroke-width="2.0" fill="none" stroke-linejoin="round" />
<path d="M79.80,506.00 L79.80,500.10 L214.00,500.10 L214.00,518.00" stroke="#379dcd" stroke-width="2.0" fill="none" stroke-linejoin="round" />
<path d="M146.00,500.10 L146.00,506.00" stroke="#379dcd" stroke-width="2.0" fill="none" stroke-linejoin="round" />
<path d="M142.00,605.80 L142.00,613.20" stroke="#379dcd" stroke-width="2.0" fill="none" stroke-linejoin="round" />
<path d="M37.90,629.00 L37.90,613.20 L213.80,613.20 L213.80,622.00" stroke="#379dcd" stroke-width="2.0" fill="none" stroke-linejoin="round" />
<path d="M111.80,613.20 L111.80,621.00" stroke="#379dcd" stroke-width="2.0" fill="none" stroke-linejoin="round" />
<path d="M157.00,613.20 L157.00,622.00" stroke="#379dcd" stroke-width="2.0" fill="none" stroke-linejoin="round" />
<path d="M142.00,294.10 L142.00,304.30" stroke="#379dcd" stroke-width="2.0" fill="none" stroke-linejoin="round" />
<path d="M74.10,327.00 L74.10,304.30 L210.00,304.30 L210.00,306.00" stroke="#379dcd" stroke-width="2.0" fill="none" stroke-linejoin="round" />
<path d="M111.80,304.30 L111.80,330.00" stroke="#379dcd" stroke-width="2.0" fill="none" stroke-linejoin="round" />
<path d="M149.30,304.30 L149.30,330.00" stroke="#379dcd" stroke-width="2.0" fill="none" stroke-linejoin="round" />
<use href="#io" x="68.50" y="326.70"/>
<use href="#servo" x="103.90" y="330.00"/>
<use href="#inv" x="142.30" y="329.70"/>
<use href="#screw" x="180.00" y="298.00"/>
<text x="74.50" y="356.60" font-size="9.25" text-anchor="middle" fill="#48494b" stroke="#48494b" stroke-width="0.2" >I/O</text>
<text x="111.50" y="356.60" font-size="9.25" text-anchor="middle" fill="#48494b" stroke="#48494b" stroke-width="0.2" >伺服机</text>
<text x="148.20" y="356.60" font-size="9.25" text-anchor="middle" fill="#48494b" stroke="#48494b" stroke-width="0.2" >逆变器</text>
<text x="209.50" y="356.60" font-size="9.25" text-anchor="middle" fill="#48494b" stroke="#48494b" stroke-width="0.2" >螺丝机</text>
<path d="M183.00,231.20 L142.00,231.20 L142.00,264.00" stroke="#e6a650" stroke-width="2.0" fill="none" stroke-linejoin="round" />
<path d="M47.00,277.70 L98.00,277.70" stroke="#e6a650" stroke-width="2.0" fill="none" stroke-linejoin="round" />
<path d="M43.20,299.00 L43.20,588.90 L98.00,588.90" stroke="#e6a650" stroke-width="2.0" fill="none" stroke-linejoin="round" />
<path d="M43.20,379.80 L98.00,379.80" stroke="#e6a650" stroke-width="2.0" fill="none" stroke-linejoin="round" />
<path d="M43.20,476.50 L98.00,476.50" stroke="#e6a650" stroke-width="2.0" fill="none" stroke-linejoin="round" />
<use href="#plc" x="97.05" y="263.30"/>
<text x="74.50" y="294.50" font-size="9.1" fill="#48494b" stroke="#48494b" stroke-width="0.2" >PLC</text>
<use href="#plc" x="97.05" y="365.20"/>
<text x="74.50" y="396.20" font-size="9.1" fill="#48494b" stroke="#48494b" stroke-width="0.2" >PLC</text>
<use href="#plc" x="97.05" y="461.70"/>
<text x="74.50" y="491.40" font-size="9.1" fill="#48494b" stroke="#48494b" stroke-width="0.2" >PLC</text>
<use href="#plc" x="97.05" y="575.00"/>
<text x="74.50" y="602.50" font-size="9.1" fill="#48494b" stroke="#48494b" stroke-width="0.2" >PLC</text>
<use href="#tsn" x="182.00" y="192.50"/>
<use href="#tsn" x="35.00" y="243.30"/>
<text x="42.60" y="246.20" font-size="9.5" font-weight="bold" fill="#333" stroke="#333" stroke-width="0.2" >TSN-G5008</text>
<text x="109.00" y="210.20" font-size="9.5" font-weight="bold" fill="#333" stroke="#333" stroke-width="0.2" >TSN-G5008</text>
<text x="109.30" y="218.80" font-size="8.0" fill="#48494b" stroke="#48494b" stroke-width="0.2" ><tspan font-weight="bold">TSN</tspan> 全千兆</text>
<text x="109.30" y="227.20" font-size="8.0" fill="#48494b" stroke="#48494b" stroke-width="0.2" >以太网交换机</text>
<use href="#servo" x="66.30" y="425.20"/>
<use href="#inv" x="104.20" y="425.60"/>
<use href="#robot" x="137.00" y="408.30"/>
<use href="#hmi" x="194.30" y="412.30"/>
<text x="75.00" y="452.20" font-size="9.25" text-anchor="middle" fill="#48494b" stroke="#48494b" stroke-width="0.2" >伺服机</text>
<text x="109.70" y="452.20" font-size="9.25" text-anchor="middle" fill="#48494b" stroke="#48494b" stroke-width="0.2" >逆变器</text>
<text x="152.00" y="452.20" font-size="9.25" text-anchor="middle" fill="#48494b" stroke="#48494b" stroke-width="0.2" >机械臂</text>
<text x="214.50" y="452.20" font-size="9.25" text-anchor="middle" fill="#48494b" stroke="#48494b" stroke-width="0.2" >HMI</text>
<use href="#tester" x="66.70" y="504.00"/>
<use href="#tester" x="132.50" y="504.00"/>
<use href="#hmi" x="196.00" y="517.30"/>
<text x="76.00" y="555.20" font-size="9.25" text-anchor="middle" fill="#48494b" stroke="#48494b" stroke-width="0.2" >自动检测</text>
<text x="142.50" y="555.20" font-size="9.25" text-anchor="middle" fill="#48494b" stroke="#48494b" stroke-width="0.2" >自动检测</text>
<text x="214.50" y="555.20" font-size="9.25" text-anchor="middle" fill="#48494b" stroke="#48494b" stroke-width="0.2" >HMI</text>
<use href="#sealer" x="28.00" y="627.80"/>
<use href="#labeler" x="75.40" y="618.00"/>
<use href="#hmi" x="138.60" y="621.40"/>
<use href="#hmi" x="194.30" y="621.40"/>
<text x="47.50" y="660.20" font-size="9.25" text-anchor="middle" fill="#48494b" stroke="#48494b" stroke-width="0.2" >密封机</text>
<text x="96.00" y="660.20" font-size="9.25" text-anchor="middle" fill="#48494b" stroke="#48494b" stroke-width="0.2" >贴标机</text>
<text x="159.00" y="660.20" font-size="9.25" text-anchor="middle" fill="#48494b" stroke="#48494b" stroke-width="0.2" >HMI</text>
<text x="214.50" y="660.20" font-size="9.25" text-anchor="middle" fill="#48494b" stroke="#48494b" stroke-width="0.2" >HMI</text>
<path d="M407.20,396.00 L407.20,406.30" stroke="#379dcd" stroke-width="2.0" fill="none" stroke-linejoin="round" />
<path d="M340.00,423.00 L340.00,406.30 L479.50,406.30 L479.50,414.50" stroke="#379dcd" stroke-width="2.0" fill="none" stroke-linejoin="round" />
<path d="M377.00,406.30 L377.00,423.00" stroke="#379dcd" stroke-width="2.0" fill="none" stroke-linejoin="round" />
<path d="M414.60,406.30 L414.60,423.00" stroke="#379dcd" stroke-width="2.0" fill="none" stroke-linejoin="round" />
<path d="M407.20,492.50 L407.20,500.00" stroke="#379dcd" stroke-width="2.0" fill="none" stroke-linejoin="round" />
<path d="M345.80,533.00 L345.80,500.00 L479.20,500.00 L479.20,518.00" stroke="#379dcd" stroke-width="2.0" fill="none" stroke-linejoin="round" />
<path d="M411.00,500.00 L411.00,516.00" stroke="#379dcd" stroke-width="2.0" fill="none" stroke-linejoin="round" />
<path d="M407.20,605.80 L407.20,613.10" stroke="#379dcd" stroke-width="2.0" fill="none" stroke-linejoin="round" />
<path d="M335.60,623.00 L335.60,613.10 L479.20,613.10 L479.20,622.00" stroke="#379dcd" stroke-width="2.0" fill="none" stroke-linejoin="round" />
<path d="M401.20,613.10 L401.20,628.60" stroke="#379dcd" stroke-width="2.0" fill="none" stroke-linejoin="round" />
<path d="M407.20,294.10 L407.20,304.30" stroke="#379dcd" stroke-width="2.0" fill="none" stroke-linejoin="round" />
<path d="M339.30,327.00 L339.30,304.30 L475.20,304.30 L475.20,306.00" stroke="#379dcd" stroke-width="2.0" fill="none" stroke-linejoin="round" />
<path d="M377.00,304.30 L377.00,330.00" stroke="#379dcd" stroke-width="2.0" fill="none" stroke-linejoin="round" />
<path d="M414.50,304.30 L414.50,330.00" stroke="#379dcd" stroke-width="2.0" fill="none" stroke-linejoin="round" />
<use href="#io" x="333.70" y="326.70"/>
<use href="#servo" x="369.10" y="330.00"/>
<use href="#inv" x="407.50" y="329.70"/>
<use href="#screw" x="445.20" y="298.00"/>
<text x="339.70" y="356.60" font-size="9.25" text-anchor="middle" fill="#48494b" stroke="#48494b" stroke-width="0.2" >I/O</text>
<text x="376.70" y="356.60" font-size="9.25" text-anchor="middle" fill="#48494b" stroke="#48494b" stroke-width="0.2" >伺服机</text>
<text x="413.40" y="356.60" font-size="9.25" text-anchor="middle" fill="#48494b" stroke="#48494b" stroke-width="0.2" >逆变器</text>
<text x="474.70" y="356.60" font-size="9.25" text-anchor="middle" fill="#48494b" stroke="#48494b" stroke-width="0.2" >螺丝机</text>
<path d="M448.20,231.20 L407.20,231.20 L407.20,264.00" stroke="#e6a650" stroke-width="2.0" fill="none" stroke-linejoin="round" />
<path d="M312.20,277.70 L363.20,277.70" stroke="#e6a650" stroke-width="2.0" fill="none" stroke-linejoin="round" />
<path d="M308.40,299.00 L308.40,588.90 L363.20,588.90" stroke="#e6a650" stroke-width="2.0" fill="none" stroke-linejoin="round" />
<path d="M308.40,379.80 L363.20,379.80" stroke="#e6a650" stroke-width="2.0" fill="none" stroke-linejoin="round" />
<path d="M308.40,476.50 L363.20,476.50" stroke="#e6a650" stroke-width="2.0" fill="none" stroke-linejoin="round" />
<use href="#plc" x="362.25" y="263.30"/>
<text x="339.70" y="294.50" font-size="9.1" fill="#48494b" stroke="#48494b" stroke-width="0.2" >PLC</text>
<use href="#plc" x="362.25" y="365.20"/>
<text x="339.70" y="396.20" font-size="9.1" fill="#48494b" stroke="#48494b" stroke-width="0.2" >PLC</text>
<use href="#plc" x="362.25" y="461.70"/>
<text x="339.70" y="491.40" font-size="9.1" fill="#48494b" stroke="#48494b" stroke-width="0.2" >PLC</text>
<use href="#plc" x="362.25" y="575.00"/>
<text x="339.70" y="602.50" font-size="9.1" fill="#48494b" stroke="#48494b" stroke-width="0.2" >PLC</text>
<use href="#tsn" x="447.20" y="192.50"/>
<use href="#tsn" x="300.20" y="243.30"/>
<text x="307.80" y="246.20" font-size="9.5" font-weight="bold" fill="#333" stroke="#333" stroke-width="0.2" >TSN-G5008</text>
<text x="393.20" y="224.60" font-size="9.5" font-weight="bold" fill="#333" stroke="#333" stroke-width="0.2" >TSN-G5008</text>
<use href="#io" x="334.30" y="422.30"/>
<use href="#io" x="371.30" y="422.30"/>
<use href="#io" x="408.80" y="422.30"/>
<use href="#hmi" x="460.20" y="413.60"/>
<text x="340.00" y="452.60" font-size="9.25" text-anchor="middle" fill="#48494b" stroke="#48494b" stroke-width="0.2" >I/O</text>
<text x="377.00" y="452.60" font-size="9.25" text-anchor="middle" fill="#48494b" stroke="#48494b" stroke-width="0.2" >I/O</text>
<text x="414.60" y="452.60" font-size="9.25" text-anchor="middle" fill="#48494b" stroke="#48494b" stroke-width="0.2" >I/O</text>
<text x="479.50" y="452.60" font-size="9.25" text-anchor="middle" fill="#48494b" stroke="#48494b" stroke-width="0.2" >HMI</text>
<use href="#robot" x="330.50" y="511.30"/>
<use href="#leak" x="396.50" y="502.40"/>
<use href="#hmi" x="461.20" y="517.20"/>
<text x="344.30" y="554.80" font-size="9.25" text-anchor="middle" fill="#48494b" stroke="#48494b" stroke-width="0.2" >机械臂</text>
<text x="422.50" y="554.80" font-size="9.25" text-anchor="middle" fill="#48494b" stroke="#48494b" stroke-width="0.2" >泄露监测</text>
<text x="479.50" y="554.80" font-size="9.25" text-anchor="middle" fill="#48494b" stroke="#48494b" stroke-width="0.2" >HMI</text>
<use href="#weld" x="300.40" y="611.70"/>
<use href="#camera" x="386.90" y="624.50"/>
<use href="#hmi" x="459.60" y="621.30"/>
<text x="317.70" y="660.40" font-size="9.25" text-anchor="middle" fill="#48494b" stroke="#48494b" stroke-width="0.2" >焊接站</text>
<text x="406.00" y="660.40" font-size="9.25" text-anchor="middle" fill="#48494b" stroke="#48494b" stroke-width="0.2" >机器视觉摄像头</text>
<text x="479.50" y="660.40" font-size="9.25" text-anchor="middle" fill="#48494b" stroke="#48494b" stroke-width="0.2" >HMI</text>
<path d="M672.10,396.00 L672.10,406.30" stroke="#379dcd" stroke-width="2.0" fill="none" stroke-linejoin="round" />
<path d="M613.60,420.00 L613.60,406.30 L744.20,406.30 L744.20,420.00" stroke="#379dcd" stroke-width="2.0" fill="none" stroke-linejoin="round" />
<path d="M679.60,406.30 L679.60,420.00" stroke="#379dcd" stroke-width="2.0" fill="none" stroke-linejoin="round" />
<path d="M672.10,492.50 L672.10,504.80" stroke="#379dcd" stroke-width="2.0" fill="none" stroke-linejoin="round" />
<path d="M610.70,518.50 L610.70,504.80 L733.20,504.80 L733.20,521.00" stroke="#379dcd" stroke-width="2.0" fill="none" stroke-linejoin="round" />
<path d="M672.10,504.80 L672.10,521.00" stroke="#379dcd" stroke-width="2.0" fill="none" stroke-linejoin="round" />
<path d="M672.10,294.10 L672.10,304.30" stroke="#379dcd" stroke-width="2.0" fill="none" stroke-linejoin="round" />
<path d="M604.20,327.00 L604.20,304.30 L740.10,304.30 L740.10,306.00" stroke="#379dcd" stroke-width="2.0" fill="none" stroke-linejoin="round" />
<path d="M641.90,304.30 L641.90,330.00" stroke="#379dcd" stroke-width="2.0" fill="none" stroke-linejoin="round" />
<path d="M679.40,304.30 L679.40,330.00" stroke="#379dcd" stroke-width="2.0" fill="none" stroke-linejoin="round" />
<use href="#io" x="598.60" y="326.70"/>
<use href="#servo" x="634.00" y="330.00"/>
<use href="#inv" x="672.40" y="329.70"/>
<use href="#screw" x="710.10" y="298.00"/>
<text x="604.60" y="356.60" font-size="9.25" text-anchor="middle" fill="#48494b" stroke="#48494b" stroke-width="0.2" >I/O</text>
<text x="641.60" y="356.60" font-size="9.25" text-anchor="middle" fill="#48494b" stroke="#48494b" stroke-width="0.2" >伺服机</text>
<text x="678.30" y="356.60" font-size="9.25" text-anchor="middle" fill="#48494b" stroke="#48494b" stroke-width="0.2" >逆变器</text>
<text x="739.60" y="356.60" font-size="9.25" text-anchor="middle" fill="#48494b" stroke="#48494b" stroke-width="0.2" >螺丝机</text>
<path d="M713.10,231.20 L672.10,231.20 L672.10,264.00" stroke="#e6a650" stroke-width="2.0" fill="none" stroke-linejoin="round" />
<path d="M577.10,277.70 L628.10,277.70" stroke="#e6a650" stroke-width="2.0" fill="none" stroke-linejoin="round" />
<path d="M573.30,299.00 L573.30,476.50 L628.10,476.50" stroke="#e6a650" stroke-width="2.0" fill="none" stroke-linejoin="round" />
<path d="M573.30,379.80 L628.10,379.80" stroke="#e6a650" stroke-width="2.0" fill="none" stroke-linejoin="round" />
<use href="#plc" x="627.15" y="263.30"/>
<text x="604.60" y="294.50" font-size="9.1" fill="#48494b" stroke="#48494b" stroke-width="0.2" >PLC</text>
<use href="#plc" x="627.15" y="365.20"/>
<text x="604.60" y="396.20" font-size="9.1" fill="#48494b" stroke="#48494b" stroke-width="0.2" >PLC</text>
<use href="#plc" x="627.15" y="461.70"/>
<text x="604.60" y="491.40" font-size="9.1" fill="#48494b" stroke="#48494b" stroke-width="0.2" >PLC</text>
<use href="#tsn" x="712.10" y="192.50"/>
<use href="#tsn" x="565.10" y="243.30"/>
<text x="572.70" y="246.20" font-size="9.5" font-weight="bold" fill="#333" stroke="#333" stroke-width="0.2" >TSN-G5008</text>
<text x="657.50" y="224.60" font-size="9.5" font-weight="bold" fill="#333" stroke="#333" stroke-width="0.2" >TSN-G5008</text>
<use href="#robot" x="593.80" y="408.20"/>
<use href="#robot" x="660.40" y="408.20"/>
<use href="#robot" x="724.80" y="408.20"/>
<text x="610.80" y="452.60" font-size="9.25" text-anchor="middle" fill="#48494b" stroke="#48494b" stroke-width="0.2" >机械臂</text>
<text x="677.40" y="452.60" font-size="9.25" text-anchor="middle" fill="#48494b" stroke="#48494b" stroke-width="0.2" >机械臂</text>
<text x="741.80" y="452.60" font-size="9.25" text-anchor="middle" fill="#48494b" stroke="#48494b" stroke-width="0.2" >机械臂</text>
<use href="#io" x="605.00" y="517.80"/>
<use href="#inv" x="665.20" y="520.20"/>
<use href="#inv" x="726.20" y="520.20"/>
<text x="610.80" y="545.80" font-size="9.25" text-anchor="middle" fill="#48494b" stroke="#48494b" stroke-width="0.2" >I/O</text>
<text x="671.90" y="545.80" font-size="9.25" text-anchor="middle" fill="#48494b" stroke="#48494b" stroke-width="0.2" >逆变器</text>
<text x="733.70" y="545.80" font-size="9.25" text-anchor="middle" fill="#48494b" stroke="#48494b" stroke-width="0.2" >逆变器</text>
<path d="M985.00,233.80 L887.60,233.80 L887.60,504.00" stroke="#379dcd" stroke-width="2.1" fill="none" stroke-linejoin="round" />
<path d="M896.00,274.40 L1033.40,274.40 L1033.40,283.40" stroke="#379dcd" stroke-width="2.0" fill="none" stroke-linejoin="round" />
<path d="M921.60,274.40 L921.60,283.40" stroke="#379dcd" stroke-width="2.0" fill="none" stroke-linejoin="round" />
<path d="M959.50,274.40 L959.50,283.40" stroke="#379dcd" stroke-width="2.0" fill="none" stroke-linejoin="round" />
<path d="M997.20,274.40 L997.20,283.40" stroke="#379dcd" stroke-width="2.0" fill="none" stroke-linejoin="round" />
<path d="M896.00,395.20 L1033.40,395.20 L1033.40,404.20" stroke="#379dcd" stroke-width="2.0" fill="none" stroke-linejoin="round" />
<path d="M921.60,395.20 L921.60,404.20" stroke="#379dcd" stroke-width="2.0" fill="none" stroke-linejoin="round" />
<path d="M959.50,395.20 L959.50,404.20" stroke="#379dcd" stroke-width="2.0" fill="none" stroke-linejoin="round" />
<path d="M997.20,395.20 L997.20,404.20" stroke="#379dcd" stroke-width="2.0" fill="none" stroke-linejoin="round" />
<path d="M896.00,520.20 L960.80,520.20 L960.80,529.20" stroke="#379dcd" stroke-width="2.0" fill="none" stroke-linejoin="round" />
<path d="M921.60,520.20 L921.60,529.20" stroke="#379dcd" stroke-width="2.0" fill="none" stroke-linejoin="round" />
<use href="#eds" x="984.30" y="198.90"/>
<text x="896.00" y="212.50" font-size="9.3" font-weight="bold" fill="#333" stroke="#333" stroke-width="0.2" >EDS-G4012 系列</text>
<text x="896.00" y="221.20" font-size="8.2" fill="#48494b" stroke="#48494b" stroke-width="0.2" >工业网管型交换机</text>
<use href="#cabinet" x="817.30" y="234.90"/>
<use href="#eds" x="876.80" y="256.80"/>
<use href="#pmeter" x="908.30" y="282.20"/>
<use href="#pmeter" x="945.20" y="282.20"/>
<use href="#gmeter" x="985.00" y="281.90"/>
<use href="#gmeter" x="1022.20" y="281.90"/>
<text x="843.60" y="319.90" font-size="9.25" text-anchor="middle" fill="#48494b" stroke="#48494b" stroke-width="0.2" >GA 配电柜</text>
<text x="939.00" y="320.30" font-size="9.25" text-anchor="middle" fill="#48494b" stroke="#48494b" stroke-width="0.2" >电表</text>
<text x="1017.00" y="320.30" font-size="9.25" text-anchor="middle" fill="#48494b" stroke="#48494b" stroke-width="0.2" >气表</text>
<use href="#cabinet" x="817.30" y="356.00"/>
<use href="#eds" x="876.80" y="377.90"/>
<use href="#pmeter" x="908.30" y="403.30"/>
<use href="#pmeter" x="945.20" y="403.30"/>
<use href="#gmeter" x="985.00" y="403.00"/>
<use href="#gmeter" x="1022.20" y="403.00"/>
<text x="843.60" y="441.00" font-size="9.25" text-anchor="middle" fill="#48494b" stroke="#48494b" stroke-width="0.2" >CA 配电柜</text>
<text x="940.60" y="441.40" font-size="9.25" text-anchor="middle" fill="#48494b" stroke="#48494b" stroke-width="0.2" >电表</text>
<text x="1017.00" y="441.40" font-size="9.25" text-anchor="middle" fill="#48494b" stroke="#48494b" stroke-width="0.2" >气表</text>
<use href="#shelf" x="816.00" y="492.50"/>
<use href="#eds" x="876.80" y="502.80"/>
<use href="#pmeter" x="908.30" y="528.30"/>
<use href="#pmeter" x="945.20" y="528.30"/>
<text x="849.80" y="565.80" font-size="9.25" text-anchor="middle" fill="#48494b" stroke="#48494b" stroke-width="0.2" >物料搬运配电柜</text>
<text x="938.60" y="566.00" font-size="9.25" text-anchor="middle" fill="#48494b" stroke="#48494b" stroke-width="0.2" >电表</text>
<use href="#pc" x="504.30" y="39.70"/>
<use href="#ipc" x="504.00" y="92.20"/>
<use href="#plc" x="492.20" y="129.00"/>
<text x="568.60" y="76.50" font-size="9" fill="#48494b" stroke="#48494b" stroke-width="0.2" >MES</text>
<text x="568.60" y="113.20" font-size="9" fill="#48494b" stroke="#48494b" stroke-width="0.2" >IPC</text>
<text x="581.30" y="158.20" font-size="9.2" fill="#48494b" stroke="#48494b" stroke-width="0.2" >PLC 主机</text>
<path d="M911.50,86.90 L931.90,86.90" stroke="#dfa660" stroke-width="1.5" fill="none" stroke-linejoin="round" />
<text x="942.80" y="91.90" font-size="11.5" fill="#55565a" stroke="#55565a" stroke-width="0.1" >TSN 千兆以太网</text>
<path d="M911.50,103.90 L931.90,103.90" stroke="#3aa9de" stroke-width="1.5" fill="none" stroke-linejoin="round" />
<text x="942.80" y="108.90" font-size="11.5" fill="#55565a" stroke="#55565a" stroke-width="0.1" >百兆以太网</text>
<path d="M911.50,119.70 L931.90,119.70" stroke="#8cc063" stroke-width="1.5" fill="none" stroke-linejoin="round" />
<text x="942.80" y="124.70" font-size="11.5" fill="#55565a" stroke="#55565a" stroke-width="0.1" >千兆以太网</text>
<g id="brand">
<rect x="806.6" y="655.6" width="273.4" height="40.4" fill="#ffffff"/>
<clipPath id="lc"><circle cx="826.98" cy="675.83" r="18.68"/></clipPath>
<g clip-path="url(#lc)" fill="#11409b">
<path d="M 815.48,661.29 C 820.94,662.21 826.69,665.77 832.15,671.52 L 840.48,663.47 L 847.38,656.57 L 847.38,652.55 L 810.60,652.55 L 810.60,658.87 Z"/>
<path d="M 806.57,673.24 L 809.16,670.66 C 813.47,664.62 822.09,665.48 830.14,673.93 C 825.25,680.43 817.78,685.43 810.02,681.29 L 806.57,678.99 Z"/>
<path d="M 813.47,688.59 C 820.37,688.30 827.84,684.74 833.01,679.28 L 841.06,688.18 L 847.95,695.66 L 847.95,700.25 L 808.87,700.25 L 808.87,690.48 Z"/>
<path d="M 836.17,675.83 L 846.52,665.48 L 851.40,665.48 L 851.40,689.91 L 848.53,687.32 Z"/>
</g>
<text x="851.0" y="676.7" font-size="17.0" fill="#555658" stroke="#555658" stroke-width="0.3">深圳长欣自动化设备有限公司</text>
<text x="851.2" y="688.3" font-size="9.1" font-weight="bold" fill="#58595b" textLength="220.6" lengthAdjust="spacingAndGlyphs">SHENZHEN CHANGXIN AUTOMATION EQUIPMENT CO. LTD</text>
</g>
</svg>
</body>
</html>
